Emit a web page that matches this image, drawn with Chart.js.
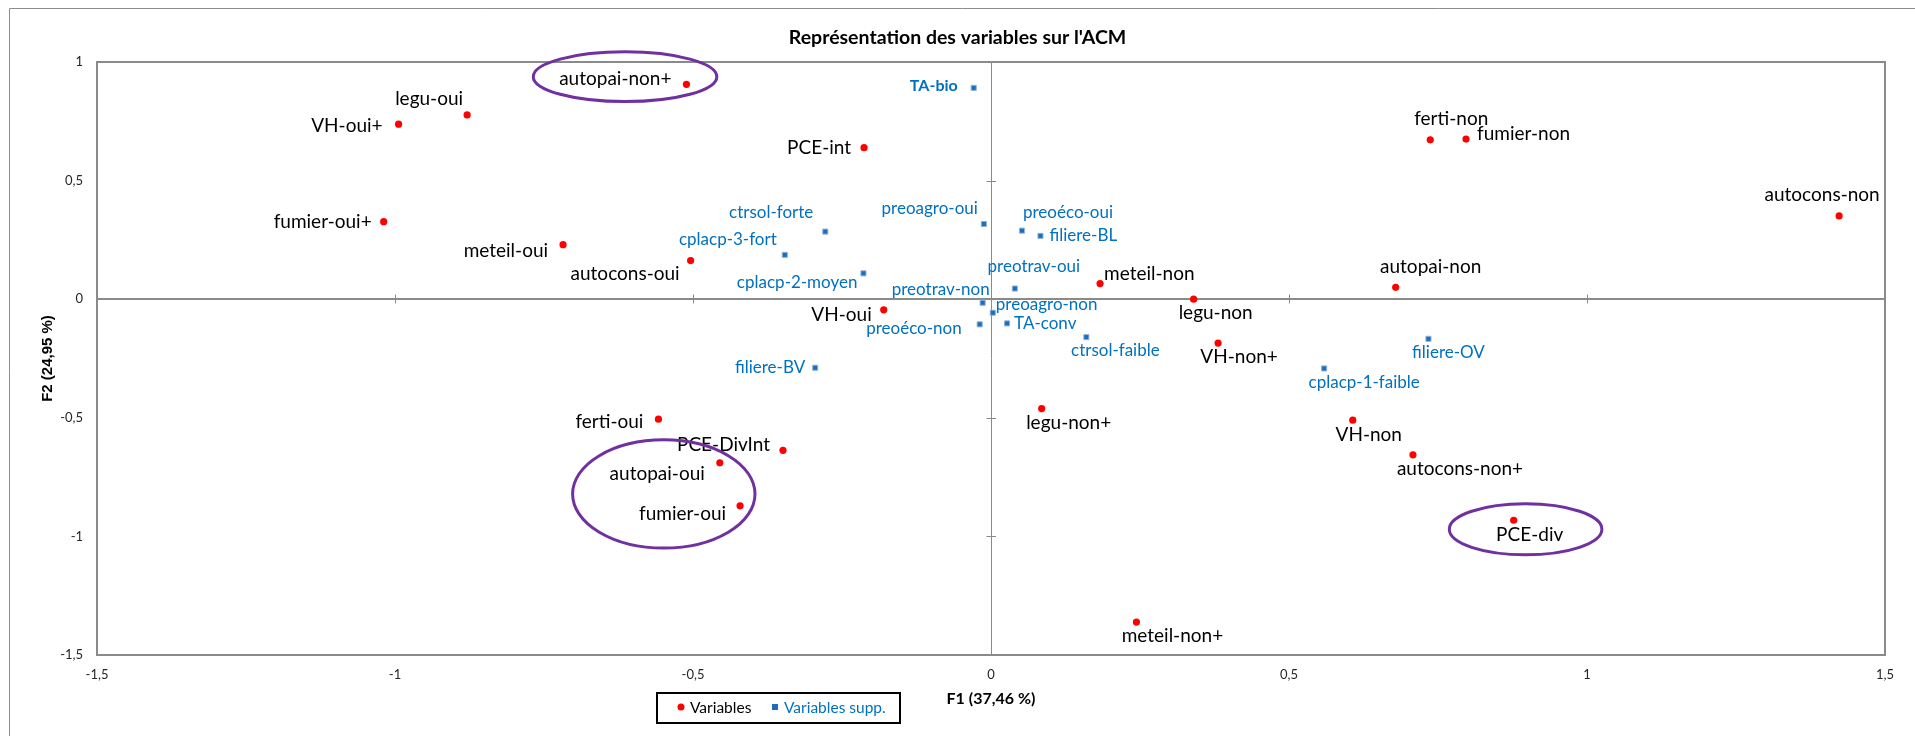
<!DOCTYPE html>
<html><head><meta charset="utf-8">
<script src="https://cdn.jsdelivr.net/npm/chart.js@4.4.1/dist/chart.umd.min.js"></script>
<style>html,body{margin:0;padding:0;background:#fff;}canvas{display:block;}</style>
</head><body>
<canvas id="c" width="1915" height="736"></canvas>
<script>
// ---------- data ----------
const chartTitle = "Représentation des variables sur l'ACM";
const xAxisTitle = "F1 (37,46 %)";
const yAxisTitle = "F2 (24,95 %)";
const seriesNames = ["Variables", "Variables supp."];

const varLabels = ["autopai-non+","legu-oui","VH-oui+","fumier-oui+","meteil-oui","autocons-oui",
  "PCE-int","VH-oui","meteil-non","legu-non","VH-non+","ferti-non","fumier-non","autocons-non",
  "autopai-non","ferti-oui","PCE-DivInt","autopai-oui","fumier-oui","legu-non+","meteil-non+",
  "VH-non","autocons-non+","PCE-div"];
const varF1 = [-0.511,-0.879,-0.994,-1.019,-0.718,-0.504,
  -0.213,-0.180,0.183,0.340,0.381,0.737,0.797,1.423,
  0.679,-0.558,-0.349,-0.455,-0.421,0.085,0.244,
  0.607,0.708,0.877];
const varF2 = [0.906,0.777,0.738,0.327,0.230,0.163,
  0.639,-0.045,0.066,0.000,-0.185,0.672,0.675,0.351,
  0.050,-0.506,-0.637,-0.690,-0.871,-0.461,-1.361,
  -0.510,-0.656,-0.932];

const suppLabels = ["TA-bio","ctrsol-forte","preoagro-oui","preoéco-oui","filiere-BL","cplacp-3-fort",
  "cplacp-2-moyen","preotrav-oui","preotrav-non","preoagro-non","preoéco-non","TA-conv",
  "ctrsol-faible","filiere-BV","filiere-OV","cplacp-1-faible"];
const suppF1 = [-0.029,-0.278,-0.012,0.052,0.083,-0.346,
  -0.214,0.040,-0.014,0.003,-0.019,0.027,
  0.160,-0.295,0.734,0.559];
const suppF2 = [0.891,0.285,0.317,0.289,0.267,0.187,
  0.109,0.045,-0.015,-0.057,-0.106,-0.102,
  -0.160,-0.289,-0.167,-0.292];

const xTickValues = [-1.5,-1,-0.5,0,0.5,1,1.5];
const yTickValues = [-1.5,-1,-0.5,0,0.5,1];

// ---------- annotation layout (label placement relative to each point, px) ----------
const varLabelPlace = [['r',-15,-5],['c',-38,-16],['r',-16,2],['r',-12,0],['r',-15,6],['r',-11,13],
  ['r',-13,0],['r',-12,5],['l',4,-10],['c',22,14],['c',21,14],['c',21,-21],['l',11,-5],['c',-17,-21],
  ['c',35,-20],['r',-15,3],['r',-13,-5],['r',-15,11],['r',-14,8],['c',27,14],['c',36,14],
  ['c',16,15],['c',47,14],['c',16,15]];
const suppLabelPlace = [['r',-16,-2],['r',-12,-19],['r',-6,-15],['l',1,-18],['l',9,0],['r',-8,-15],
  ['r',-6,9],['c',19,-22],['r',7,-13],['l',3,-8],['r',-18,4],['l',7,0],
  ['c',29,13],['r',-10,0],['c',20,14],['c',40,14]];
// highlight ellipses in data units: [centerF1, centerF2, radiusF1, radiusF2]
const highlightEllipses = [[-0.614,0.938,0.154,0.105],[-0.549,-0.821,0.153,0.228],[0.897,-0.970,0.128,0.1075]];

const fmt = v => String(v).replace('.', ',');
const RED = '#FF0000', BLUE = '#0070C0', AXIS = '#8a8a8a';

const acmPlugin = {
  id: 'acm',
  beforeDraw(chart) {
    const ctx = chart.ctx;
    ctx.save();
    ctx.strokeStyle = '#8c8c8c'; ctx.lineWidth = 1;
    ctx.beginPath(); ctx.moveTo(9.5, 736); ctx.lineTo(9.5, 8.5); ctx.lineTo(1915, 8.5); ctx.stroke();
    ctx.restore();
  },
  beforeDatasetsDraw(chart) {
    const {ctx, chartArea: a, scales: {x, y}} = chart;
    ctx.save();
    ctx.strokeStyle = AXIS;
    ctx.lineWidth = 2;
    ctx.strokeRect(a.left, a.top, a.right - a.left, a.bottom - a.top);
    const x0 = Math.round(x.getPixelForValue(0)), y0 = Math.round(y.getPixelForValue(0));
    ctx.beginPath(); ctx.moveTo(a.left, y0); ctx.lineTo(a.right, y0); ctx.stroke();
    ctx.lineWidth = 1;
    ctx.beginPath(); ctx.moveTo(x0 + 0.5, a.top); ctx.lineTo(x0 + 0.5, a.bottom); ctx.stroke();
    xTickValues.forEach(v => {
      if (v === 0) return;
      const px = Math.round(x.getPixelForValue(v)) + 0.5;
      ctx.beginPath(); ctx.moveTo(px, y0 - 4.5); ctx.lineTo(px, y0 + 4.5); ctx.stroke();
    });
    yTickValues.forEach(v => {
      if (v === 0) return;
      const py = Math.round(y.getPixelForValue(v)) + 0.5;
      ctx.beginPath(); ctx.moveTo(x0 - 4.5, py); ctx.lineTo(x0 + 5, py); ctx.stroke();
    });
    ctx.restore();
  },
  afterDatasetsDraw(chart) {
    const {ctx, scales: {x, y}} = chart;
    ctx.save();
    ctx.textBaseline = 'middle';
    const drawSet = (labels, xs, ys, place, color, size) => {
      labels.forEach((t, i) => {
        const px = x.getPixelForValue(xs[i]), py = y.getPixelForValue(ys[i]);
        const [al, dx, dy] = place[i];
        const bold = (t === 'TA-bio');
        ctx.font = (bold ? 'bold ' : '') + (bold ? 16 : size) + 'px Lato';
        ctx.fillStyle = color;
        ctx.textAlign = al === 'l' ? 'left' : al === 'r' ? 'right' : 'center';
        ctx.fillText(t, px + dx, py + dy);
      });
    };
    drawSet(varLabels, varF1, varF2, varLabelPlace, '#000', 19);
    drawSet(suppLabels, suppF1, suppF2, suppLabelPlace, BLUE, 17);
    // ellipses
    ctx.strokeStyle = '#7030A0'; ctx.lineWidth = 3;
    highlightEllipses.forEach(([cx, cy, rx, ry]) => {
      const pcx = x.getPixelForValue(cx), pcy = y.getPixelForValue(cy);
      const prx = Math.abs(x.getPixelForValue(cx + rx) - pcx), pry = Math.abs(y.getPixelForValue(cy + ry) - pcy);
      ctx.beginPath(); ctx.ellipse(pcx, pcy, prx, pry, 0, 0, Math.PI * 2); ctx.stroke();
    });
    ctx.restore();
  },
  afterDraw(chart) {
    const ctx = chart.ctx;
    const ds = chart.data.datasets;
    ctx.save();
    ctx.strokeStyle = '#000'; ctx.lineWidth = 2;
    ctx.strokeRect(657, 693, 243, 30);
    ctx.textBaseline = 'middle';
    ctx.font = '15.5px Lato';
    ctx.fillStyle = ds[0].backgroundColor;
    ctx.beginPath(); ctx.arc(681, 707, 3.5, 0, Math.PI * 2); ctx.fill();
    ctx.fillStyle = '#000'; ctx.textAlign = 'left';
    ctx.fillText(ds[0].label, 690, 708);
    ctx.fillStyle = ds[1].backgroundColor;
    ctx.fillRect(772, 704, 6, 6);
    ctx.fillStyle = BLUE;
    ctx.fillText(ds[1].label, 784, 708);
    ctx.restore();
  }
};

new Chart(document.getElementById('c'), {
  type: 'scatter',
  data: {
    datasets: [
      { label: seriesNames[0], data: varF1.map((v, i) => ({x: v, y: varF2[i]})),
        pointStyle: 'circle', radius: 3.6, backgroundColor: RED, borderColor: RED, borderWidth: 0 },
      { label: seriesNames[1], data: suppF1.map((v, i) => ({x: v, y: suppF2[i]})),
        pointStyle: 'rect', radius: 3.6, backgroundColor: '#1C6DBE', borderColor: '#8FB3DA', borderWidth: 1 }
    ]
  },
  options: {
    responsive: false, animation: false, devicePixelRatio: 1,
    layout: {padding: {left: 0, right: 0, top: 0, bottom: 0}},
    plugins: {
      legend: {display: false}, tooltip: {enabled: false},
      title: {display: true, text: chartTitle, color: '#000',
        font: {family: 'Lato', size: 19.5, weight: 'bold'}, padding: {top: 26.3, bottom: 12.3}}
    },
    scales: {
      x: {
        type: 'linear', position: 'bottom', min: -1.5, max: 1.5,
        afterBuildTicks: s => { s.ticks = xTickValues.map(v => ({value: v})); },
        afterFit: s => { s.height = 81; },
        grid: {display: false, drawTicks: false}, border: {display: false},
        ticks: {padding: 12, color: '#262626', font: {family: 'Lato', size: 13}, callback: v => fmt(v), autoSkip: false, maxRotation: 0},
        title: {display: true, text: xAxisTitle, color: '#000', font: {family: 'Lato', size: 16, weight: 'bold'}, padding: {top: 0, bottom: 27.4}}
      },
      y: {
        type: 'linear', position: 'left', min: -1.5, max: 1,
        afterBuildTicks: s => { s.ticks = yTickValues.map(v => ({value: v})); },
        afterFit: s => { s.width = 97; },
        grid: {display: false, drawTicks: false}, border: {display: false},
        ticks: {padding: 14, color: '#262626', font: {family: 'Lato', size: 13}, callback: v => fmt(v), autoSkip: false},
        title: {display: true, text: yAxisTitle, color: '#000', font: {family: 'Liberation Sans', size: 15, weight: 'bold'}, padding: {top: 38.5, bottom: 0}}
      },
      yPad: {
        type: 'linear', position: 'right', min: 0, max: 1, display: true,
        afterFit: s => { s.width = 30; },
        grid: {display: false, drawTicks: false}, border: {display: false}, ticks: {display: false}
      }
    }
  },
  plugins: [acmPlugin]
});
</script>
</body></html>
